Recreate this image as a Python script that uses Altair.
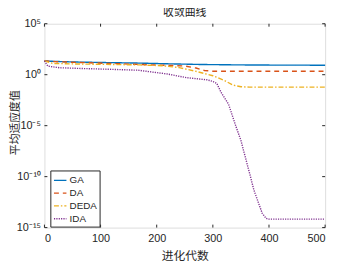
import altair as alt
import pandas as pd

series_names = ["GA", "DA", "DEDA", "IDA"]
colors = ["#0072BD", "#D95319", "#EDB120", "#7E2F8E"]

ga_gen = [0, 20, 50, 100, 167, 220, 280, 350, 420, 500]
ga_val = [22.4, 20.0, 17.8, 15.8, 13.8, 11.7, 10.0, 9.1, 8.7, 8.5]

da_gen = [0, 20, 60, 120, 170, 220, 250, 270, 285, 300, 500]
da_val = [22.4, 19.1, 15.8, 12.6, 10.0, 8.3, 7.1, 4.5, 2.6, 2.2, 2.2]

deda_gen = [0, 15, 60, 120, 170, 210, 240, 272, 300, 320, 336, 350, 365, 500]
deda_val = [22.4, 12.6, 11.2, 10.0, 9.1, 7.6, 5.0, 2.0, 0.79, 0.28, 0.095, 0.066, 0.060, 0.060]

ida_gen = [0, 6, 27, 70, 115, 167, 219, 254, 289, 300, 307, 315, 328, 341, 350, 367, 373, 388, 395, 400, 500]
ida_val = [22.4, 6.9, 4.8, 4.0, 3.4, 2.75, 1.17, 0.5, 0.32, 0.22, 0.14, 0.017, 1.26e-3,
           8.9e-6, 3.5e-7, 1e-10, 5e-12, 2.5e-14, 7.9e-15, 6.8e-15, 6.8e-15]

x_ticks = [0, 100, 200, 300, 400, 500]
y_ticks = [1e5, 1e0, 1e-5, 1e-10, 1e-15]

rows = []
for name, g, v in [("GA", ga_gen, ga_val), ("DA", da_gen, da_val),
                   ("DEDA", deda_gen, deda_val), ("IDA", ida_gen, ida_val)]:
    for gg, vv in zip(g, v):
        rows.append({"gen": gg, "val": vv, "series": name})
df = pd.DataFrame(rows)

W, H = 285, 207
FONT = "Liberation Sans"
CJK = "Noto Sans CJK SC"
AX = "#262626"

xscale = alt.Scale(domain=[0, 500], nice=False)
yscale = alt.Scale(type="log", domain=[1e-15, 1e5], nice=False)

label_expr = ("datum.value >= 1e4 ? '10⁵' : datum.value >= 0.5 ? '10⁰' : "
              "datum.value >= 1e-6 ? '10⁻⁵' : datum.value >= 1e-11 ? '10⁻¹⁰' : '10⁻¹⁵'")

legend_cfg = dict(title=None, orient="none", legendX=6, legendY=149,
                  symbolType="stroke", symbolStrokeWidth=1.4,
                  symbolSize=160, labelFont=FONT, labelFontSize=10,
                  labelColor=AX, strokeColor=AX, fillColor="white",
                  padding=2.5, rowPadding=0, labelOffset=2, cornerRadius=0)

lines = alt.Chart(df).mark_line(strokeWidth=1.4).encode(
    x=alt.X("gen:Q", scale=xscale,
            axis=alt.Axis(values=x_ticks, ticks=False, domain=False, grid=False,
                          title="进化代数", titleFont=CJK, titleFontSize=12,
                          titleFontWeight="normal", titleColor=AX, titlePadding=7,
                          labelFont=FONT, labelFontSize=11, labelColor=AX, labelPadding=5)),
    y=alt.Y("val:Q", scale=yscale,
            axis=alt.Axis(values=y_ticks, ticks=False, domain=False, grid=False,
                          labelExpr=label_expr,
                          title="平均适应度值", titleFont=CJK, titleFontSize=11,
                          titleFontWeight="normal", titleColor=AX,
                          titleX=-29, titleY=100, titleAngle=-90,
                          titleBaseline="middle", titleAlign="center",
                          labelFont=FONT, labelFontSize=11, labelColor=AX, labelPadding=4)),
    color=alt.Color("series:N", scale=alt.Scale(domain=series_names, range=colors),
                    sort=series_names, legend=alt.Legend(**legend_cfg)),
    strokeDash=alt.StrokeDash("series:N",
                              scale=alt.Scale(domain=series_names,
                                              range=[[1, 0], [5, 4], [5, 2, 1.5, 2], [1.2, 1.2]]),
                              sort=series_names, legend=alt.Legend(**legend_cfg)),
    order="gen:Q",
)

xt = pd.DataFrame({"t": x_ticks})
yt = pd.DataFrame({"t": y_ticks})
tick_style = dict(color=AX, strokeWidth=1)
xb = alt.Chart(xt).mark_rule(**tick_style).encode(x=alt.X("t:Q", scale=xscale), y=alt.value(H), y2=alt.value(H - 3))
xtop = alt.Chart(xt).mark_rule(**tick_style).encode(x=alt.X("t:Q", scale=xscale), y=alt.value(0), y2=alt.value(3))
yl = alt.Chart(yt).mark_rule(**tick_style).encode(y=alt.Y("t:Q", scale=yscale), x=alt.value(0), x2=alt.value(3))
yr = alt.Chart(yt).mark_rule(**tick_style).encode(y=alt.Y("t:Q", scale=yscale), x=alt.value(W), x2=alt.value(W - 3))

chart = alt.layer(lines, xb, xtop, yl, yr).properties(
    width=W, height=H,
    title=alt.Title("收敛曲线", font=CJK, fontSize=11, fontWeight="normal", color=AX, offset=0),
    autosize=alt.AutoSizeParams(type="none"),
    padding={"left": 37, "top": 14, "right": 8, "bottom": 35},
).configure_view(stroke=AX, strokeWidth=1).configure(background="white")

chart.save("out.html", embed_options={"renderer": "svg", "actions": False})
